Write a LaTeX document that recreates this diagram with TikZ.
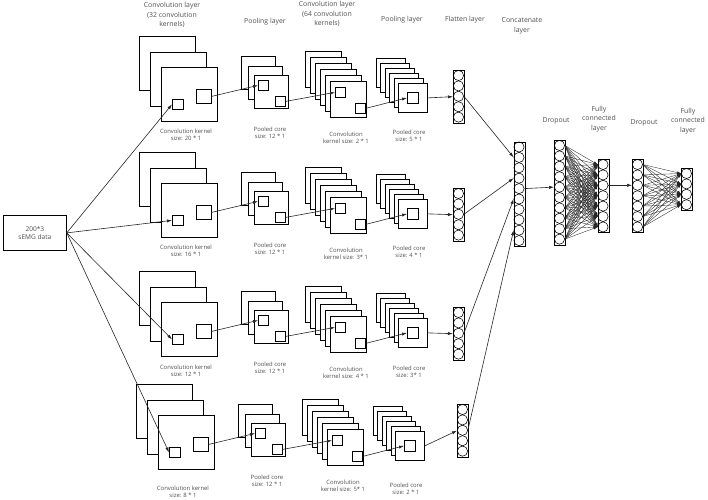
\documentclass[tikz,border=0pt]{standalone}
\usepackage{fontspec}
\setmainfont{Open Sans}
\usetikzlibrary{positioning}
\usetikzlibrary{arrows.meta}

\definecolor{txtgray}{RGB}{80,80,80}
\tikzset{
  sq/.style={draw, line width=0.75pt, fill=white, inner sep=0pt, anchor=north west},
  lbl/.style={text=txtgray, font=\fontsize{5.9}{7}\selectfont, align=center, inner sep=0pt},
  head/.style={text=txtgray, font=\fontsize{6.9}{9.6}\selectfont, align=center, inner sep=0pt},
  arr/.style={-{Latex[length=5pt,width=3.2pt]}, line width=0.6pt, draw=black!85},
  fc/.style={-{Latex[length=4pt,width=2.6pt]}, line width=0.35pt, draw=black!85},
  nrn/.style={draw, circle, line width=0.55pt, inner sep=0pt, minimum size=10.2pt},
}
% column of neurons: name, x, top y, count
\newcommand\ncol[4]{%
  \node[sq, minimum width=11pt, minimum height=#4*10.4pt+0.6pt] (#1) at (#2,#3) {};
  \foreach \i in {1,...,#4}{
    \node[nrn] (#1-\i) at (#2+5.5,#3+0.3+\i*10.4-5.2) {};
  }
}

\begin{document}
\begin{tikzpicture}[x=1pt,y=1pt,yscale=-1,xscale=1]
\useasboundingbox (0,0) rectangle (708,499);

% input
\node[sq, minimum width=63pt, minimum height=35pt] (in) at (3,215) {};
\node[lbl, font=\fontsize{6.6}{8.4}\selectfont] at (in.center) {200*3\\sEMG data};

% headers
\node[head] at (172,15) {Convolution layer\\(32 convolution\\kernels)};
\node[head] at (265,22) {Pooling layer};
\node[head] at (327,14) {Convolution layer\\(64 convolution\\kernels)};
\node[head] at (402,20) {Pooling layer};
\node[head] at (465,20) {Flatten layer};
\node[head] at (522,26) {Concatenate\\layer};
\node[head] at (556,121) {Dropout};
\node[head] at (599,119) {Fully\\connected\\layer};
\node[head] at (644,123) {Dropout};
\node[head] at (688,121) {Fully\\connected\\layer};

% four branches
\foreach \r/\dx/\dy/\fx/\fy/\cy/\ka/\kb/\kc/\kd in
  {1/0/0/453/70/0/20 * 1/12 * 1/2 * 1/5 * 1,
   2/0/116/453/188/0/16 * 1/12 * 1/3* 1/4 * 1,
   3/0/235/453/307/1/12 * 1/12 * 1/4 * 1/3* 1,
   4/-3/348/457/404/9/8 * 1/12 * 1/5* 1/2 * 1}{
  % convolution layer 1
  \foreach \j in {0,1,2}{
    \node[sq, minimum width=56pt, minimum height=54pt] (c\r-\j) at (139+\dx+11*\j,36+\dy+15.5*\j) {};
  }
  \node[sq, minimum width=11pt, minimum height=10pt] (ck\r) at (172+\dx,99+\dy) {};
  \node[sq, minimum width=15pt, minimum height=14pt] (co\r) at (196+\dx,89+\dy) {};
  \node[lbl] at (186+\dx,135+\dy+\cy) {Convolution kernel\\size: \ka};
  % pooling layer 1
  \foreach \j in {0,1,2}{
    \node[sq, minimum width=34pt, minimum height=33pt] (p\r-\j) at (241+\dx+6.5*\j,56+\dy+9.5*\j) {};
  }
  \node[sq, minimum width=10pt, minimum height=10pt] (pa\r) at (258+\dx,80+\dy) {};
  \node[sq, minimum width=10pt, minimum height=10pt] (pb\r) at (275+\dx,96+\dy) {};
  \node[lbl] at (270+\dx,133+\dy) {Pooled core\\size: \kb};
  % convolution layer 2
  \foreach \j in {0,...,5}{
    \node[sq, minimum width=36pt, minimum height=36pt] (d\r-\j) at (305+\dx+5*\j,51+\dy+6*\j) {};
  }
  \node[sq, minimum width=10pt, minimum height=10pt] (da\r) at (335+\dx,87+\dy) {};
  \node[sq, minimum width=10pt, minimum height=10pt] (db\r) at (355+\dx,103+\dy) {};
  \node[lbl] at (346+\dx,138+\dy) {Convolution\\kernel size: \kc};
  % pooling layer 2
  \foreach \j in {0,...,5}{
    \node[sq, minimum width=29pt, minimum height=29pt] (q\r-\j) at (376+\dx+4.4*\j,58+\dy+5*\j) {};
  }
  \node[sq, minimum width=11pt, minimum height=11pt] (qa\r) at (407+\dx,92+\dy) {};
  \node[lbl] at (409+\dx,136+\dy+\cy*0.5) {Pooled core\\size: \kd};
  % flatten
  \ncol{f\r}{\fx}{\fy}{5}
  % arrows
  \draw[arr] (in.east) -- (ck\r.west);
  \draw[arr] (co\r.east) -- (pa\r.west);
  \draw[arr] (pb\r.east) -- (da\r.west);
  \draw[arr] (db\r.east) -- (qa\r.west);
  \draw[arr] (q\r-5.east) -- (f\r.west);
}

% dense part
\ncol{cat}{513.5}{141.5}{10}
\ncol{dr1}{554}{140}{10}
\ncol{fc1}{597.5}{159}{7}
\ncol{dr2}{632}{159}{7}
\ncol{fc2}{681}{168}{4}

\draw[arr] (f1-3.east) -- (cat-2.west);
\draw[arr] (f2-3.east) -- (cat-4.west);
\draw[arr] (f3-3.east) -- (cat-6.west);
\draw[arr] (f4-3.east) -- (cat-9.west);
\draw[arr] (cat-5.east) -- (dr1-5.west);
\foreach \i in {1,...,10}
  \foreach \j in {1,...,7}
    \draw[fc] (dr1-\i.east) -- (fc1-\j.west);
\draw[arr] (fc1-3.east) -- (dr2-3.west);
\foreach \i in {1,...,7}
  \foreach \j in {1,...,4}
    \draw[fc] (dr2-\i.east) -- (fc2-\j.west);

\end{tikzpicture}
\end{document}
